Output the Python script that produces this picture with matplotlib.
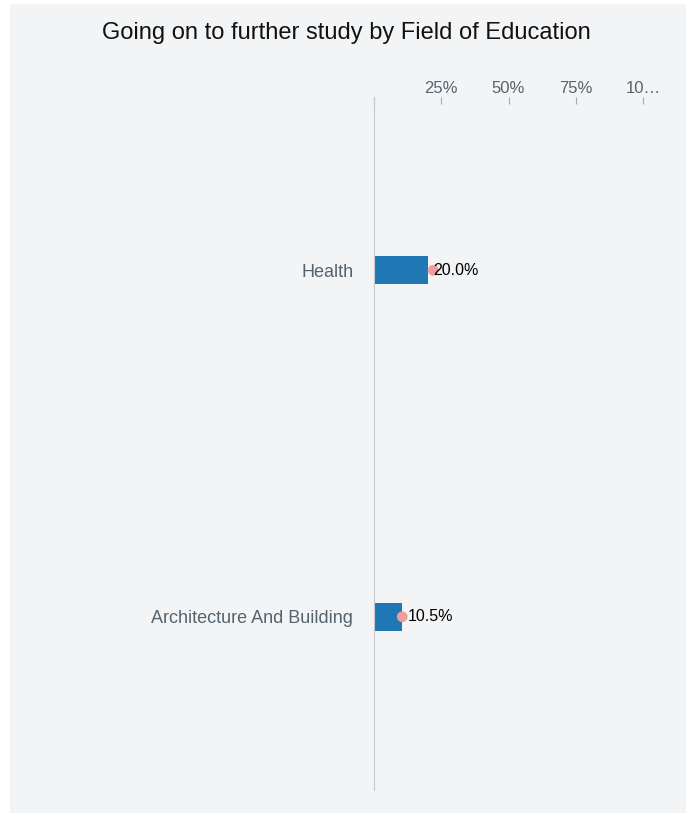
import matplotlib.pyplot as plt
from matplotlib.patches import Rectangle

plt.rcParams['font.family'] = ['Liberation Sans', 'DejaVu Sans']

fields = ['Health', 'Architecture And Building']
bar_vals = [20.0, 10.5]
dot_vals = [22.0, 10.5]
labels = ['20.0%', '10.5%']
ticks = [0, 25, 50, 75, 100]
tick_labels = ['', '25%', '50%', '75%', '10…']

fig = plt.figure(figsize=(6.91, 8.17), dpi=100)
fig.patch.set_facecolor('white')

# grey panel behind everything
W, H = 691, 817
fig.patches.append(Rectangle((10 / W, 4 / H), 676 / W, 809 / H,
                             transform=fig.transFigure, facecolor='#f3f4f6',
                             edgecolor='none', zorder=-1))

ax = fig.add_axes([374 / W, 27 / H, 269 / W, 693 / H])
ax.set_zorder(2)
ax.set_facecolor('none')

y = list(range(len(fields)))
ax.barh(y, bar_vals, height=0.08, color='#1f77b4', zorder=2)
ax.scatter(dot_vals, y, s=60, color='#f39c9c', zorder=3, edgecolors='none')
for yi, v, lab in zip(y, bar_vals, labels):
    ax.text(v + 2.2, yi, lab, va='center', ha='left', fontsize=11.5, color='black', zorder=4)

ax.set_xlim(0, 100)
ax.set_ylim(1.5, -0.5)
ax.set_yticks(y)
ax.set_yticklabels(fields, fontsize=13, color='#55636d')
ax.tick_params(axis='y', length=0, pad=15)

ax.xaxis.tick_top()
ax.set_xticks(ticks)
ax.set_xticklabels(tick_labels, fontsize=12, color='#55636d')
ax.tick_params(axis='x', length=5, direction='in', color='#aaaaaa', pad=0.5)

for s in ['top', 'right', 'bottom']:
    ax.spines[s].set_visible(False)
ax.spines['left'].set_color('#c8c8c8')

fig.text(346 / W, 1 - 33 / H, 'Going on to further study by Field of Education',
         ha='center', va='center', fontsize=17, color='#111111')

fig.savefig('out.png', dpi=100)
